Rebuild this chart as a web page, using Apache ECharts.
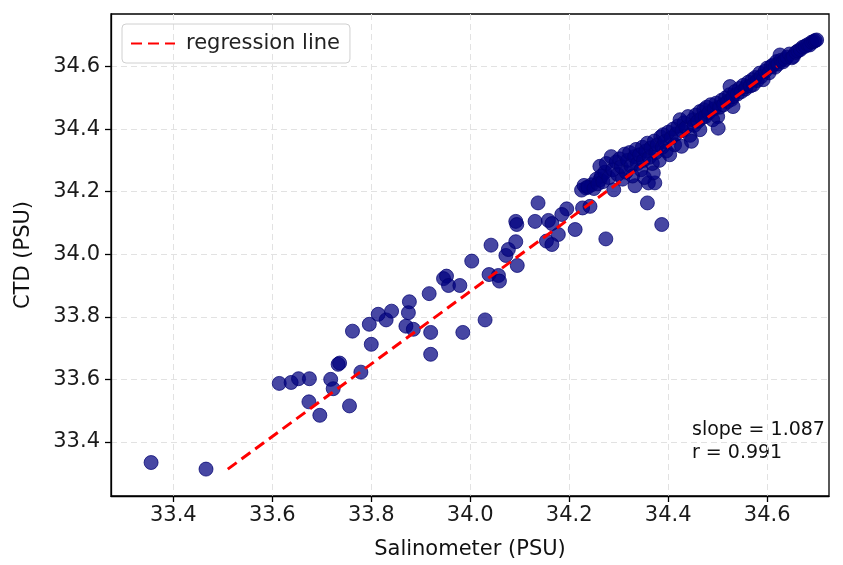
<!DOCTYPE html>
<html>
<head>
<meta charset="utf-8">
<script src="https://cdn.jsdelivr.net/npm/echarts@6/dist/echarts.min.js"></script>
<style>
html,body{margin:0;padding:0;background:#fff;}
#chart{width:843px;height:565px;}
</style>
</head>
<body>
<div id="chart"></div>
<script>
// Salinometer (x) vs CTD (y) readings, PSU
const salinometer = [
  33.355, 33.466, 33.614, 33.638, 33.653, 33.675, 33.718, 33.723, 33.733, 33.736,
  33.674, 33.696, 33.756, 33.779, 33.762, 33.796, 33.800, 33.814, 33.830, 33.841,
  33.877, 33.875, 33.870, 33.885, 33.917, 33.920, 33.920, 33.946, 33.952, 33.956,
  33.979, 33.985, 34.003, 34.030, 34.042, 34.038, 34.057, 34.059, 34.072, 34.077,
  34.092, 34.095, 34.092, 34.094, 34.137, 34.131, 34.158, 34.165, 34.195, 34.185,
  34.212, 34.178, 34.154, 34.165, 34.227, 34.242, 34.234, 34.245, 34.262, 34.262,
  34.274, 34.290, 34.333, 34.360, 34.373, 34.358, 34.387, 34.370,
  34.225, 34.230, 34.238, 34.250, 34.255, 34.258, 34.265, 34.268, 34.272,
  34.275, 34.280, 34.285, 34.288, 34.295, 34.298, 34.302, 34.305, 34.308, 34.312, 34.315,
  34.318, 34.322, 34.325, 34.328, 34.332, 34.335, 34.338, 34.342, 34.345, 34.348, 34.350, 34.352,
  34.355, 34.358, 34.362, 34.365, 34.368, 34.372, 34.375, 34.378, 34.382, 34.385, 34.388, 34.390,
  34.393, 34.396, 34.400, 34.403, 34.406, 34.410, 34.413, 34.416, 34.420, 34.424, 34.427, 34.428,
  34.432, 34.436, 34.440, 34.444, 34.447, 34.450, 34.453, 34.456, 34.460, 34.464, 34.464, 34.468,
  34.472, 34.475, 34.478, 34.482, 34.486, 34.490, 34.493, 34.497, 34.500, 34.501, 34.504, 34.508,
  34.512, 34.516, 34.520, 34.524, 34.525, 34.528, 34.531, 34.531, 34.535, 34.540, 34.544, 34.548,
  34.552, 34.556, 34.558, 34.562, 34.566, 34.570, 34.572, 34.576, 34.580, 34.585, 34.588, 34.592,
  34.596, 34.600, 34.604, 34.608, 34.612, 34.616, 34.619, 34.622, 34.626, 34.628, 34.632, 34.636,
  34.640, 34.645, 34.650, 34.653, 34.658, 34.662, 34.667, 34.672, 34.677, 34.682, 34.686, 34.690,
  34.694, 34.697, 34.700
];
const ctd = [
  33.334, 33.313, 33.587, 33.590, 33.602, 33.602, 33.600, 33.570, 33.648, 33.652,
  33.528, 33.485, 33.515, 33.623, 33.754, 33.776, 33.712, 33.808, 33.790, 33.818,
  33.848, 33.813, 33.770, 33.760, 33.874, 33.750, 33.680, 33.922, 33.930, 33.900,
  33.900, 33.750, 33.978, 33.790, 34.029, 33.935, 33.932, 33.914, 33.996, 34.015,
  34.040, 33.964, 34.105, 34.095, 34.164, 34.105, 34.108, 34.098, 34.145, 34.127,
  34.079, 34.063, 34.042, 34.031, 34.148, 34.153, 34.212, 34.222, 34.238, 34.281,
  34.049, 34.206, 34.219, 34.228, 34.228, 34.164, 34.095, 34.260,
  34.205, 34.220, 34.215, 34.210, 34.240, 34.225, 34.250, 34.232, 34.262,
  34.290, 34.245, 34.312, 34.270, 34.295, 34.255, 34.305, 34.280, 34.240, 34.320, 34.262,
  34.300, 34.325, 34.282, 34.250, 34.312, 34.335, 34.290, 34.318, 34.270, 34.342, 34.300, 34.245,
  34.330, 34.355, 34.310, 34.340, 34.290, 34.362, 34.325, 34.350, 34.300, 34.375, 34.342, 34.382,
  34.360, 34.330, 34.390, 34.318, 34.372, 34.400, 34.350, 34.385, 34.410, 34.430, 34.345, 34.395,
  34.420, 34.405, 34.440, 34.380, 34.361, 34.430, 34.412, 34.445, 34.425, 34.456, 34.398, 34.435,
  34.462, 34.440, 34.470, 34.452, 34.478, 34.430, 34.465, 34.483, 34.440, 34.403, 34.470, 34.492,
  34.478, 34.500, 34.488, 34.510, 34.536, 34.495, 34.472, 34.504, 34.520, 34.512, 34.530, 34.520,
  34.540, 34.528, 34.536, 34.550, 34.538, 34.558, 34.542, 34.565, 34.555, 34.579, 34.568, 34.558,
  34.585, 34.595, 34.580, 34.600, 34.605, 34.598, 34.616, 34.608, 34.637, 34.620, 34.615, 34.622,
  34.630, 34.640, 34.628, 34.632, 34.645, 34.650, 34.654, 34.662, 34.665, 34.670, 34.669, 34.678,
  34.680, 34.683, 34.685
];
// regression line end points
const regX = [33.51, 34.62];
const regY = [33.313, 34.600];
// tick labels
const xTicks = [33.4, 33.6, 33.8, 34.0, 34.2, 34.4, 34.6];
const yTicks = [33.4, 33.6, 33.8, 34.0, 34.2, 34.4, 34.6];
const annotation = ['slope = 1.087', 'r = 0.991'];

const points = salinometer.map((x, i) => [x, ctd[i]]);
const regLine = regX.map((x, i) => [x, regY[i]]);

const chart = echarts.init(document.getElementById('chart'), null, {renderer: 'canvas'});
const FONT = 'DejaVu Sans';
const axisCommon = {
  axisLine: {show: true, onZero: false, lineStyle: {color: '#000', width: 1.3}},
  axisTick: {show: true, inside: false, length: 6, lineStyle: {color: '#000', width: 1.3}},
  splitLine: {show: true, lineStyle: {color: '#e2e2e2', width: 1, type: [6, 4]}},
  nameLocation: 'middle',
  nameTextStyle: {fontFamily: FONT, fontSize: 21, color: '#111'}
};
chart.setOption({
  animation: false,
  backgroundColor: '#fff',
  textStyle: {fontFamily: FONT},
  grid: {left: 111, right: 14, top: 14, bottom: 68, show: true, borderColor: '#000', borderWidth: 1.3, backgroundColor: 'transparent'},
  legend: {
    left: 122, top: 24, padding: [9, 10, 9, 8],
    borderColor: '#d0d0d0', borderWidth: 1, borderRadius: 4,
    itemWidth: 44, itemHeight: 14, itemGap: 10,
    itemStyle: {opacity: 0},
    textStyle: {fontFamily: FONT, fontSize: 21, color: '#222', padding: [0, 0, 0, 6]},
    data: ['regression line']
  },
  xAxis: Object.assign({}, axisCommon, {
    type: 'value', min: 33.274, max: 34.725, splitNumber: 7,
    name: 'Salinometer (PSU)', nameGap: 43,
    axisTick: Object.assign({}, axisCommon.axisTick, {customValues: xTicks}),
    axisLabel: {customValues: xTicks, margin: 9, fontFamily: FONT, fontSize: 21, color: '#1a1a1a',
      formatter: v => v.toFixed(1)}
  }),
  yAxis: Object.assign({}, axisCommon, {
    type: 'value', min: 33.227, max: 34.768, splitNumber: 7,
    name: 'CTD (PSU)', nameGap: 77,
    axisTick: Object.assign({}, axisCommon.axisTick, {customValues: yTicks}),
    axisLabel: {customValues: yTicks, margin: 11, fontFamily: FONT, fontSize: 21, color: '#1a1a1a',
      formatter: v => v.toFixed(1)}
  }),
  series: [
    {
      name: 'points', type: 'scatter', data: points, symbolSize: 14,
      itemStyle: {color: '#000080', opacity: 0.72, borderColor: '#000070', borderWidth: 1}
    },
    {
      name: 'regression line', type: 'line', data: regLine, symbol: 'none', z: 5,
      lineStyle: {color: '#ff0000', width: 3, type: [11, 6]},
      itemStyle: {color: '#ff0000'}
    }
  ],
  graphic: [
    {type: 'text', left: 692, top: 419, style: {text: annotation.join('\n'), fontFamily: FONT, fontSize: 19, lineHeight: 23, fill: '#111'}}
  ]
});
</script>
</body>
</html>
